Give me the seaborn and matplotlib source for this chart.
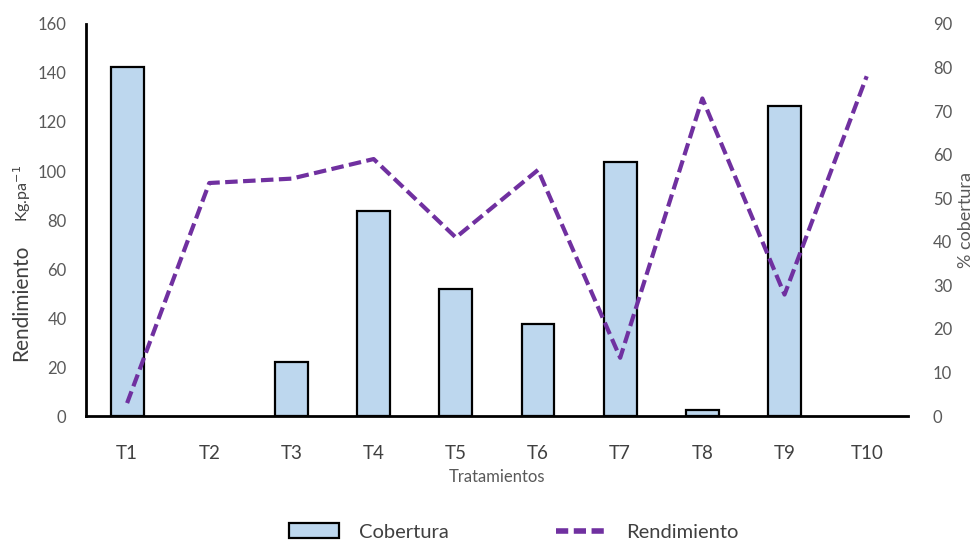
import pandas as pd
import numpy as np
import matplotlib
matplotlib.use("Agg")
import matplotlib.pyplot as plt
import seaborn as sns
from matplotlib.patches import Patch
from matplotlib.lines import Line2D

# data
tratamientos = ["T1", "T2", "T3", "T4", "T5", "T6", "T7", "T8", "T9", "T10"]
cobertura = [142.5, 0, 22, 83.8, 52, 37.5, 103.5, 2.7, 126.5, 0]      # left axis
rendimiento = [3.0, 53.5, 54.5, 59.0, 41.0, 56.5, 13.4, 72.9, 27.9, 78.0]  # right axis

sns.set_style("white")
plt.rcParams["font.family"] = ["Lato", "DejaVu Sans"]

df = pd.DataFrame({"trat": tratamientos, "cob": cobertura, "ren": rendimiento})

fig = plt.figure(figsize=(9.73, 5.44), dpi=100)
ax = fig.add_axes([0.0884, 0.235, 0.8446, 0.721])

sns.barplot(data=df, x="trat", y="cob", color="#BDD7EE", saturation=1,
            edgecolor="black", linewidth=1.6, width=0.4, ax=ax)
# empty bars draw no outline
for p in ax.patches:
    if p.get_height() == 0:
        p.set_visible(False)
ax.set_ylim(0, 160)
ax.set_yticks(np.arange(0, 161, 20))
ax.set_xlim(-0.5, 9.5)

ax2 = ax.twinx()
sns.lineplot(data=df, x="trat", y="ren", sort=False, color="#7030A0",
             linewidth=3, ax=ax2)
ax2.lines[0].set_dashes((3.0, 1.3))
ax2.set_ylim(0, 90)
ax2.set_yticks(np.arange(0, 91, 10))
ax2.set_xlim(-0.5, 9.5)

grey = "#595959"
for a in (ax, ax2):
    a.tick_params(axis="y", length=0, labelsize=12, labelcolor=grey, pad=14)
    for s in ["top", "right"]:
        a.spines[s].set_visible(False)
ax2.spines["left"].set_visible(False)
ax2.spines["bottom"].set_visible(False)
ax.spines["left"].set_color("black")
ax.spines["left"].set_linewidth(2)
ax.spines["bottom"].set_color("black")
ax.spines["bottom"].set_linewidth(2)
ax.tick_params(axis="x", length=0, labelsize=13.5, labelcolor="#404040", pad=21)
ax2.tick_params(axis="y", pad=18)

ax.set_xlabel("Tratamientos", fontsize=12, color=grey, labelpad=5)
ax.set_ylabel("")
ax2.set_ylabel("")
fig.text(0.0215, 0.443, "Rendimiento", rotation=90, fontsize=15, color="#404040",
         ha="center", va="center")
fig.text(0.023, 0.645, "Kg.pa$^{-1}$", rotation=90, fontsize=11.5, color="#404040",
         ha="center", va="center")
fig.text(0.993, 0.595, "% cobertura", rotation=90, fontsize=13, color=grey,
         ha="center", va="center")

handles = [Patch(facecolor="#BDD7EE", edgecolor="black", linewidth=1.6),
           Line2D([0], [0], color="#7030A0", linewidth=4, dashes=(2.2, 1.0))]
fig.legend(handles, ["Cobertura", "Rendimiento"], loc="center",
           bbox_to_anchor=(0.528, 0.022), ncol=2, frameon=False, fontsize=14.5,
           handlelength=2.5, handleheight=0.7, columnspacing=5.3, handletextpad=1.0,
           labelcolor="#404040")

fig.savefig("out.png", dpi=100)
